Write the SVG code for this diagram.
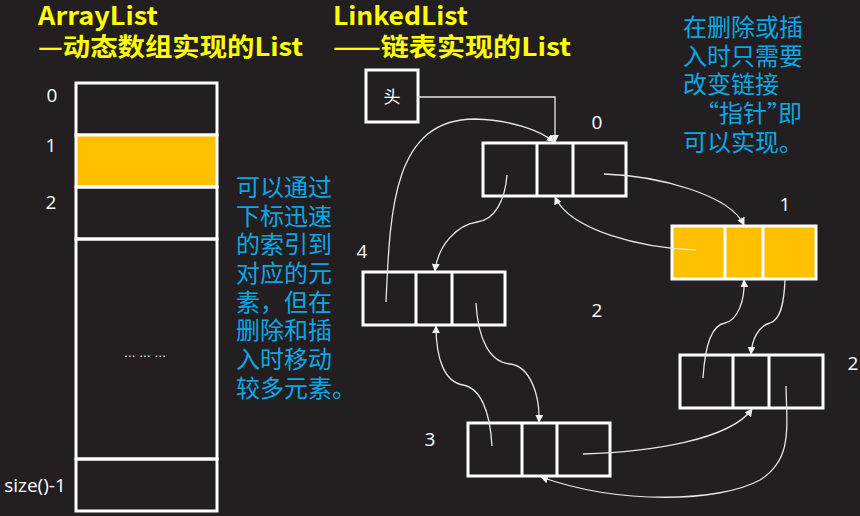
<svg xmlns="http://www.w3.org/2000/svg" width="860" height="516" viewBox="0 0 860 516">
<defs>
<marker id="arr" viewBox="0 0 10 10" refX="9" refY="5" markerWidth="8" markerHeight="8" markerUnits="userSpaceOnUse" orient="auto">
<path d="M0,0 L10,5 L0,10 z" fill="#f2f2f2"/>
</marker>
<style>
.title{font-family:"Noto Sans CJK SC","Liberation Sans",sans-serif;font-weight:bold;font-size:25px;fill:#ffff00}
.cell{fill:none;stroke:#ffffff;stroke-width:3}
.cellY{fill:#ffc000;stroke:#ffffff;stroke-width:3}
.div{stroke:#ffffff;stroke-width:3}
.num{font-family:"Open Sans","Noto Sans",sans-serif;font-size:19px;fill:#ffffff}
.note{font-family:"Noto Sans CJK SC","Liberation Sans",sans-serif;font-size:24px;fill:#0aa7e6}
.conn{fill:none;stroke:#e6e6e6;stroke-width:1.3;marker-end:url(#arr)}
</style>
</defs>
<rect width="860" height="516" fill="#231f20"/>

<g id="titles">
<text class="title" x="38" y="25" textLength="120" lengthAdjust="spacingAndGlyphs">ArrayList</text>
<text class="title" x="38" y="56" textLength="265" lengthAdjust="spacingAndGlyphs">—动态数组实现的List</text>
<text class="title" x="333" y="25" textLength="135" lengthAdjust="spacingAndGlyphs">LinkedList</text>
<text class="title" x="333" y="56" textLength="238" lengthAdjust="spacingAndGlyphs">——链表实现的List</text>
</g>

<g id="arraylist">
<rect class="cell" x="76" y="83" width="141" height="52"/>
<rect class="cellY" x="76" y="135" width="141" height="52"/>
<rect class="cell" x="76" y="187" width="141" height="52"/>
<rect class="cell" x="76" y="239" width="141" height="220"/>
<rect class="cell" x="76" y="459" width="141" height="52"/>
<text class="num" x="52" y="102" text-anchor="middle">0</text>
<text class="num" x="51" y="152" text-anchor="middle">1</text>
<text class="num" x="51" y="209" text-anchor="middle">2</text>
<text class="num" x="35" y="492" text-anchor="middle">size()-1</text>
<text x="145" y="357" text-anchor="middle" font-family="Liberation Sans, sans-serif" font-size="12" fill="#ffffff">… … …</text>
</g>

<g id="note-array">
<text class="note" x="236" y="196">可以通过</text>
<text class="note" x="236" y="225">下标迅速</text>
<text class="note" x="236" y="253">的索引到</text>
<text class="note" x="236" y="282">对应的元</text>
<text class="note" x="236" y="311">素，但在</text>
<text class="note" x="236" y="339">删除和插</text>
<text class="note" x="236" y="368">入时移动</text>
<text class="note" x="236" y="397">较多元素。</text>
</g>

<g id="note-linked">
<text class="note" x="683" y="36">在删除或插</text>
<text class="note" x="683" y="65">入时只需要</text>
<text class="note" x="683" y="93">改变链接</text>
<text class="note" y="122"><tspan x="695">“指针”</tspan><tspan x="778">即</tspan></text>
<text class="note" x="683" y="151">可以实现。</text>
</g>

<g id="head">
<rect class="cell" x="366" y="70" width="52" height="52"/>
<text x="392" y="103" text-anchor="middle" font-family="Noto Sans CJK SC, sans-serif" font-size="17" fill="#ffffff">头</text>
</g>

<g id="node0">
<rect class="cell" x="483" y="143" width="143" height="53"/>
<line class="div" x1="537" y1="143" x2="537" y2="196"/>
<line class="div" x1="573" y1="143" x2="573" y2="196"/>
<text class="num" x="597" y="129" text-anchor="middle">0</text>
</g>

<g id="node1">
<rect class="cellY" x="672" y="226" width="144" height="53"/>
<line class="div" x1="725" y1="226" x2="725" y2="279"/>
<line class="div" x1="763" y1="226" x2="763" y2="279"/>
<text class="num" x="785" y="211" text-anchor="middle">1</text>
</g>

<g id="node4">
<rect class="cell" x="363" y="272" width="142" height="53"/>
<line class="div" x1="416" y1="272" x2="416" y2="325"/>
<line class="div" x1="452" y1="272" x2="452" y2="325"/>
<text class="num" x="362" y="258" text-anchor="middle">4</text>
</g>

<g id="node2">
<rect class="cell" x="680" y="355" width="143" height="53"/>
<line class="div" x1="733" y1="355" x2="733" y2="408"/>
<line class="div" x1="769" y1="355" x2="769" y2="408"/>
<text class="num" x="853" y="370" text-anchor="middle">2</text>
</g>

<g id="node3">
<rect class="cell" x="468" y="423" width="142" height="53"/>
<line class="div" x1="522" y1="423" x2="522" y2="476"/>
<line class="div" x1="557" y1="423" x2="557" y2="476"/>
<text class="num" x="430" y="446" text-anchor="middle">3</text>
</g>

<g id="label-mid">
<text class="num" x="597" y="317" text-anchor="middle">2</text>
</g>

<g id="connectors">
<path class="conn" d="M418,97 L555,97 L555,142"/>
<path class="conn" d="M386,302 C390,210 393,119 475,119 C510,120 540,130 554,142"/>
<path class="conn" d="M507,175 C505,200 495,220 477,222 C457,225 438,245 435,271"/>
<path class="conn" d="M604,174 C660,176 730,195 744,225"/>
<path class="conn" d="M696,250 C640,248 570,230 555,197"/>
<path class="conn" d="M703,378 C705,345 712,325 725,323 C738,320 745,300 744,280"/>
<path class="conn" d="M785,280 C784,305 780,320 770,323 C758,326 752,340 751,354"/>
<path class="conn" d="M786,386 C787,430 792,460 760,480 C720,502 620,505 541,477"/>
<path class="conn" d="M583,454 C650,452 730,440 752,409"/>
<path class="conn" d="M492,446 C490,410 480,388 463,385 C445,382 436,360 436,326"/>
<path class="conn" d="M476,303 C478,340 490,362 510,364 C530,366 540,395 539,422"/>
</g>
</svg>
